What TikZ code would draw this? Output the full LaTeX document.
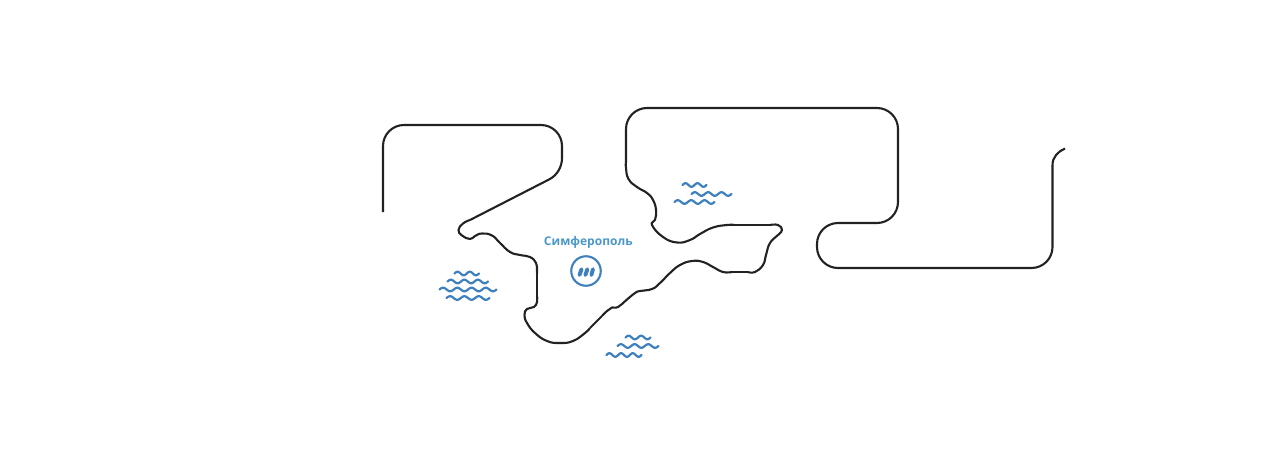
\documentclass[tikz,border=0pt]{standalone}
\usepackage{fontspec}
\setmainfont{Open Sans}
\usepackage{xcolor}
\usetikzlibrary{positioning}
\definecolor{coastblack}{HTML}{222222}
\definecolor{seablue}{HTML}{3D80BD}
\definecolor{cityblue}{HTML}{4A98CA}

\begin{document}
\begin{tikzpicture}[
    x=1pt, y=-1pt,
    coast/.style={draw=coastblack, line width=2.1pt, line join=round},
    seawave/.style={draw=seablue, line width=2.2pt, line cap=round},
    citylabel/.style={font=\fontsize{12}{14}\selectfont\bfseries, color=cityblue, inner sep=0pt},
    cityring/.style={draw=seablue, circle, line width=2.1pt, minimum size=29.5pt, inner sep=0pt},
    citybar/.style={draw=seablue, line width=3.9pt, line cap=round}
]
    \useasboundingbox (0,0) rectangle (1280,463);

    % coastline, left part
    \draw[coast, rounded corners=21pt] (383,212) -- (383,125) -- (562,125) -- (562,150);
    \draw[coast] (562,150) -- (562,158) .. controls (562,167) and (557,175.5) .. (549,179.5) -- (470,220);
    \draw[coast] plot[smooth, tension=0.8] coordinates {(470,220) (463,223.5) (458.5,230) (462,235.5) (470,239) (475,236) (482,233.5) (492,235.5) (500,243) (510,252) (520,255) (530,257) (536,263) (537,270) (537,274)};
    \draw[coast] (537,274) -- (537,296);
    \draw[coast] plot[smooth, tension=0.8] coordinates {(537,296) (537,302) (534,307) (527,309) (524.5,315) (527,323) (535,333) (547,341) (560,343) (573,341) (585,333) (590,328)};
    \draw[coast] (590,328) -- (602,316);
    \draw[coast] plot[smooth, tension=0.8] coordinates {(602,316) (607,311) (612,307.5) (618,307) (627,299.5) (635,293) (640,291) (652,289) (660,283) (670,273) (680,265) (692,261) (703,262) (713,267) (723,272) (732,272)};
    \draw[coast] (732,272) -- (748,272);
    \draw[coast] plot[smooth, tension=0.8] coordinates {(748,272) (755,272) (763,265) (766,255) (770,243) (778,235) (782,230) (778,225) (770,225)};
    \draw[coast] (770,225) -- (735,225);
    \draw[coast] plot[smooth, tension=0.8] coordinates {(735,225) (727,225) (713,227.5) (700,234) (690,240) (677,242.5) (663,237) (652,225) (655,220) (656,210) (653,200) (647,193) (637,187) (628.5,179) (626,168) (626,162)};

    % coastline, right part
    \draw[coast, rounded corners=21pt] (626,162) -- (626,108) -- (898,108) -- (898,223) -- (817,223) -- (817,268) -- (1052.5,268) -- (1052.5,165);
    \draw[coast] (1052.5,165) .. controls (1052.5,157) and (1058,151.5) .. (1065,148.5);

    % sea
    \foreach \xa/\xb/\ya/\nb in {454.5/479/273.5/2, 447.5/488/281.5/3, 439.5/496.5/289.5/4, 446.5/489.5/298/3,
                                 625.5/650.5/337.5/2, 617.5/658.5/346/3, 606.5/641.5/355/3,
                                 682.5/706.5/185/2, 691.5/731.5/194/3, 674.5/714.5/202/3} {
        \draw[seawave] plot[variable=\t, domain=0:360*\nb, samples=16*\nb+1, smooth] ({\xa+\t/(360*\nb)*(\xb-\xa)}, {\ya-1.8*sin(\t)});
    }

    % city
    \node[cityring] (ring) at (586,271) {};
    \node[citylabel] (simferopol) at (588.3,242) {Симферополь};
    \draw[citybar] (579.5,275) -- (581.5,269.2);
    \draw[citybar] (585.4,275) -- (587.4,269.2);
    \draw[citybar] (591.4,275) -- (593,269.2);
\end{tikzpicture}
\end{document}
